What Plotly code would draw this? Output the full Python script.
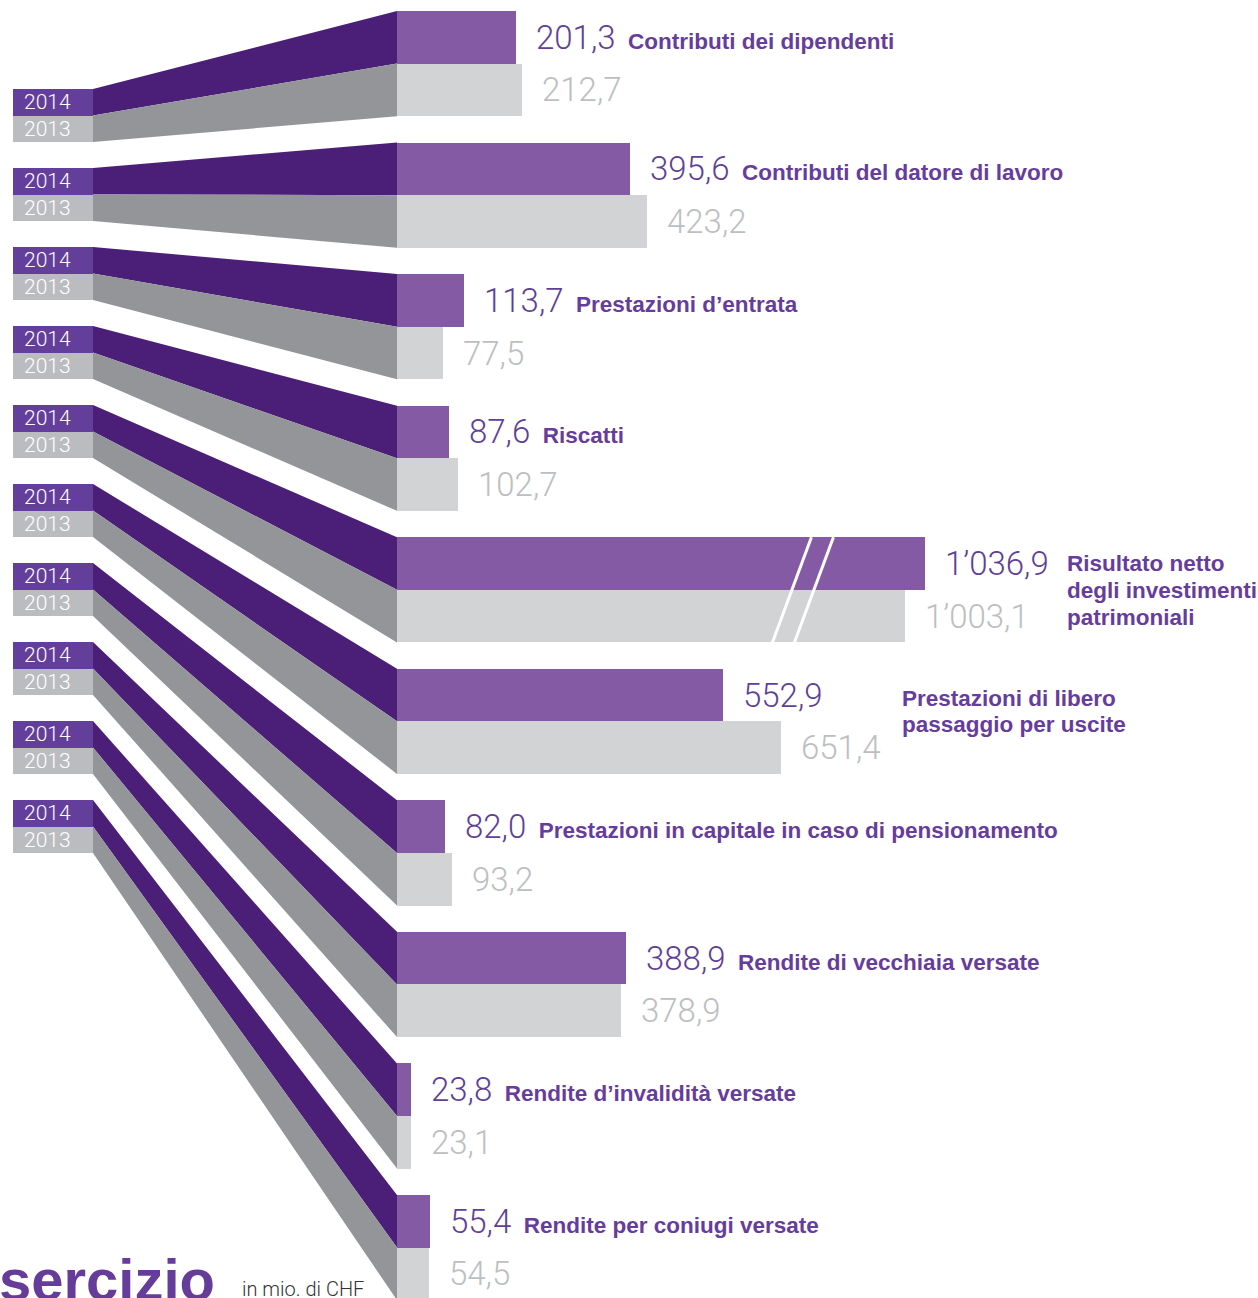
import plotly.graph_objects as go

# ---------------- data ----------------
categories = [
    "Contributi dei dipendenti",
    "Contributi del datore di lavoro",
    "Prestazioni d\u2019entrata",
    "Riscatti",
    "Risultato netto degli investimenti patrimoniali",
    "Prestazioni di libero passaggio per uscite",
    "Prestazioni in capitale in caso di pensionamento",
    "Rendite di vecchiaia versate",
    "Rendite d\u2019invalidit\u00e0 versate",
    "Rendite per coniugi versate",
]
values_2014 = [201.3, 395.6, 113.7, 87.6, 1036.9, 552.9, 82.0, 388.9, 23.8, 55.4]
values_2013 = [212.7, 423.2, 77.5, 102.7, 1003.1, 651.4, 93.2, 378.9, 23.1, 54.5]
year_labels = ["2014", "2013"]
broken = [False, False, False, False, True, False, False, False, False, False]
label_lines = {
    4: ["Risultato netto", "degli investimenti", "patrimoniali"],
    5: ["Prestazioni di libero", "passaggio per uscite"],
}
title_text = "sercizio"
unit_text = "in mio. di CHF"

# ---------------- layout constants ----------------
W, H = 1258, 1298
PX_PER_UNIT = 0.59
X0_PX = 397
BREAK_GAP = 142      # units cut out of broken bars
BREAK_AT = 688       # drawn position of break marks

RIGHT_TOP0, RIGHT_STEP, BAR_H = 11, 131.55, 52.6
LEFT_TOP0, LEFT_STEP, BOX_H = 89, 79.0, 26.5
BOX_L_PX, BOX_R_PX = 13, 93
LINE_STEP = 26.8


def px2x(px):
    return (px - X0_PX) / PX_PER_UNIT


C_BAND14 = "#4b1f78"
C_BAND13 = "#939598"
C_BOX14 = "#643e9b"
C_BOX13 = "#bbbcc0"
C_BAR14 = "#855aa4"
C_BAR13 = "#d1d3d4"
C_VAL14 = "#5f3f98"
C_LBL = "#663c9c"
C_VAL13 = "#bdbec1"

VAL_FONT = "Roboto, Liberation Sans, Arial, sans-serif"
LBL_FONT = "Liberation Sans, Arial, Helvetica, sans-serif"


def fmt(v):
    s = f"{v:,.1f}"
    return s.replace(",", "\u2019").replace(".", ",")


n = len(categories)
drawn14 = [v - BREAK_GAP if b else v for v, b in zip(values_2014, broken)]
drawn13 = [v - BREAK_GAP if b else v for v, b in zip(values_2013, broken)]

y14 = [RIGHT_TOP0 + i * RIGHT_STEP + BAR_H / 2 for i in range(n)]
y13 = [RIGHT_TOP0 + i * RIGHT_STEP + BAR_H * 1.5 for i in range(n)]
ly14 = [LEFT_TOP0 + i * LEFT_STEP + BOX_H / 2 for i in range(n)]
ly13 = [LEFT_TOP0 + i * LEFT_STEP + BOX_H * 1.5 for i in range(n)]

fig = go.Figure()

# ---------------- connecting bands ----------------
xl, xr = px2x(BOX_R_PX), 0
for ys_l, ys_r, col in [(ly14, y14, C_BAND14), (ly13, y13, C_BAND13)]:
    px, py = [], []
    for i in range(n):
        lt, lb = ys_l[i] - BOX_H / 2, ys_l[i] + BOX_H / 2
        rt, rb = ys_r[i] - BAR_H / 2, ys_r[i] + BAR_H / 2
        px += [xl, xr, xr, xl, xl, None]
        py += [lt, rt, rb, lb, lt, None]
    fig.add_trace(go.Scatter(x=px, y=py, mode="lines", fill="toself",
                             fillcolor=col, line=dict(width=0, color=col),
                             hoverinfo="skip", showlegend=False))

# ---------------- left year boxes ----------------
box_w = px2x(BOX_R_PX) - px2x(BOX_L_PX)
for ys, col, lab in [(ly14, C_BOX14, year_labels[0]), (ly13, C_BOX13, year_labels[1])]:
    fig.add_trace(go.Bar(y=ys, x=[box_w] * n, base=[px2x(BOX_L_PX)] * n,
                         orientation="h", width=BOX_H, marker=dict(color=col, line=dict(width=0)),
                         hoverinfo="skip", showlegend=False))
    for y in ys:
        fig.add_annotation(x=px2x(BOX_L_PX), y=y, xref="x", yref="y", text=lab,
                           showarrow=False, xanchor="left", yanchor="middle", xshift=9,
                           font=dict(family=VAL_FONT, size=21, color="white", weight=300))

# ---------------- bars ----------------
fig.add_trace(go.Bar(y=y14, x=drawn14, base=0, orientation="h", width=BAR_H,
                     marker=dict(color=C_BAR14, line=dict(width=0)), name="2014",
                     hoverinfo="skip", showlegend=False))
fig.add_trace(go.Bar(y=y13, x=drawn13, base=0, orientation="h", width=BAR_H,
                     marker=dict(color=C_BAR13, line=dict(width=0)), name="2013",
                     hoverinfo="skip", showlegend=False))

# break marks
shapes = []
for i in range(n):
    if broken[i]:
        top = y14[i] - BAR_H / 2
        bot = y13[i] + BAR_H / 2
        half = 19.5 / PX_PER_UNIT
        for off in (-11, 11):
            c = BREAK_AT + off / PX_PER_UNIT
            shapes.append(dict(type="line", xref="x", yref="y",
                               x0=c - half, y0=bot, x1=c + half, y1=top,
                               line=dict(color="white", width=3), layer="above"))
fig.update_layout(shapes=shapes)

# ---------------- value and category labels ----------------
sp = "\u00a0\u00a0"
for i in range(n):
    v14 = fmt(values_2014[i])
    v13 = fmt(values_2013[i])
    if i in label_lines:
        txt14 = v14
    else:
        txt14 = (f'{v14}<span style="font-family:{LBL_FONT};font-size:22.5px;'
                 f'color:{C_LBL}"><b>{sp}{categories[i]}</b></span>')
    fig.add_annotation(x=drawn14[i], y=y14[i], xref="x", yref="y", text=txt14,
                       showarrow=False, xanchor="left", yanchor="middle", xshift=18,
                       font=dict(family=VAL_FONT, size=33, color=C_VAL14, weight=300))
    fig.add_annotation(x=drawn13[i], y=y13[i], xref="x", yref="y", text=v13,
                       showarrow=False, xanchor="left", yanchor="middle", xshift=18,
                       font=dict(family=VAL_FONT, size=33, color=C_VAL13, weight=300))

# multi-line labels (one annotation per line for tighter leading)
multi = [(4, drawn14[4], 140, y14[4]), (5, drawn13[5], 119, y14[5] + 3)]
for idx, xa, xs, yfirst in multi:
    for k, line in enumerate(label_lines[idx]):
        fig.add_annotation(x=xa, y=yfirst + k * LINE_STEP, xref="x", yref="y",
                           text=line, showarrow=False, xanchor="left", yanchor="middle",
                           xshift=xs,
                           font=dict(family=LBL_FONT, size=22.5, color=C_LBL, weight="bold"))

# bottom title & unit
fig.add_annotation(x=0, y=1279, xref="paper", yref="y", text=f"<b>{title_text}</b>",
                   showarrow=False, xanchor="left", yanchor="middle", xshift=-3,
                   font=dict(family=LBL_FONT, size=58, color="#653c99"))
fig.add_annotation(x=px2x(240), y=1289, xref="x", yref="y", text=unit_text,
                   showarrow=False, xanchor="left", yanchor="middle",
                   font=dict(family=VAL_FONT, size=20, color="#333333", weight=300))

fig.update_layout(
    width=W, height=H, margin=dict(l=0, r=0, t=0, b=0),
    paper_bgcolor="white", plot_bgcolor="white",
    barmode="overlay", bargap=0,
    xaxis=dict(range=[px2x(0), px2x(W)], visible=False, fixedrange=True),
    yaxis=dict(range=[H, 0], visible=False, fixedrange=True),
    showlegend=False,
)

fig.write_html("out.html", config={"displayModeBar": False},
               post_script="document.body.style.margin='0';document.body.style.overflow='hidden';")
